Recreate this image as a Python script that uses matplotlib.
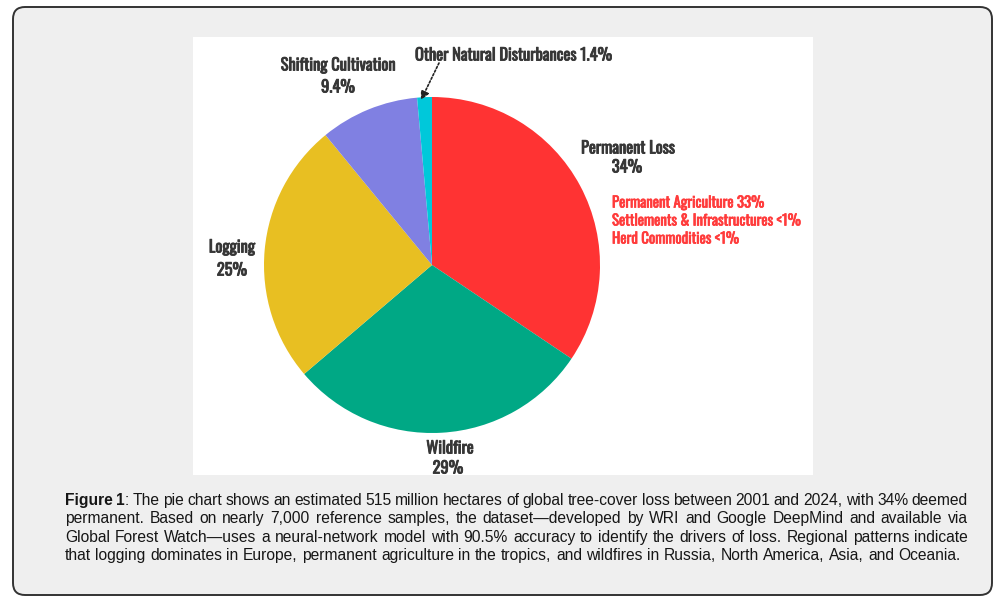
import matplotlib
matplotlib.use("Agg")
import matplotlib.pyplot as plt
import matplotlib.patheffects as pe
from matplotlib.patches import FancyBboxPatch, Rectangle

# ---------------- data ----------------
categories = ["Permanent Loss", "Wildfire", "Logging", "Shifting Cultivation", "Other Natural Disturbances"]
shares = [34, 29, 25, 9.4, 1.4]
colors = ["#ff3333", "#00a885", "#e8bf22", "#8080e2", "#00c8da"]
sub_drivers = ["Permanent Agriculture 33%", "Settlements & Infrastructures <1%", "Herd Commodities <1%"]

caption_lines = [
    "The pie chart shows an estimated 515 million hectares of global tree-cover loss between 2001 and 2024, with 34% deemed",
    "permanent. Based on nearly 7,000 reference samples, the dataset\u2014developed by WRI and Google DeepMind and available via",
    "Global Forest Watch\u2014uses a neural-network model with 90.5% accuracy to identify the drivers of loss. Regional patterns indicate",
    "that logging dominates in Europe, permanent agriculture in the tropics, and wildfires in Russia, North America, Asia, and Oceania.",
]

W, H = 1004, 603
LABEL_FONT = "Oswald"
CAP_FONT = "Liberation Sans"
DARK = "#363636"
RED_TXT = "#ff3b3b"

fig = plt.figure(figsize=(W / 100, H / 100), dpi=100)
fig.patch.set_facecolor("white")


def fx(x):
    return x / W


def fy(y):
    return 1 - y / H


# outer rounded panel
panel = FancyBboxPatch((fx(13), fy(595)), fx(992 - 13), (595 - 7) / H,
                       boxstyle="round,pad=0,rounding_size=0.012",
                       transform=fig.transFigure, facecolor="#efefef",
                       edgecolor="#333333", linewidth=1.4, mutation_aspect=W / H,
                       zorder=-3)
fig.add_artist(panel)

# white image area
fig.add_artist(Rectangle((fx(193), fy(475)), fx(813 - 193), (475 - 37) / H,
                         transform=fig.transFigure, facecolor="white", edgecolor="none",
                         zorder=-2))

# pie
cx, cy, r = 432, 265, 168
ax = fig.add_axes([fx(cx - r), fy(cy + r), 2 * r / W, 2 * r / H])
ax.set_zorder(1)
ax.patch.set_alpha(0)
ax.pie(shares, colors=colors, startangle=90, counterclock=False, radius=1,
       wedgeprops=dict(linewidth=0))
ax.set_xlim(-1, 1)
ax.set_ylim(-1, 1)
ax.set_aspect("auto")
ax.axis("off")

renderer = fig.canvas.get_renderer()


def fit_size(text, target_w, family, weight="normal"):
    t = fig.text(0, 0, text, fontsize=10, family=family, weight=weight)
    w = t.get_window_extent(renderer).width
    t.remove()
    return 10 * target_w / w


s_lab = fit_size("Shifting Cultivation", 115, LABEL_FONT, "bold")
s_red = fit_size(sub_drivers[0], 152, LABEL_FONT, "bold")


def lab(x, y, s, ha="center", size=None, color=DARK, stroke=0.6):
    fig.text(fx(x), fy(y), s, ha=ha, va="center", fontsize=size or s_lab,
             family=LABEL_FONT, weight="bold", color=color, zorder=3,
             path_effects=[pe.withStroke(linewidth=stroke, foreground=color)])


lab(338, 65, categories[3])
lab(338, 87, "9.4%")
lab(415, 55, categories[4] + " 1.4%", ha="left")
lab(628, 148, categories[0])
lab(627, 167, "34%")
lab(232, 247, categories[2])
lab(232, 270, "25%")
lab(450, 448, categories[1])
lab(448, 468, "29%")
for i, s in enumerate(sub_drivers):
    lab(612, [203, 221, 239][i], s, ha="left", size=s_red, color=RED_TXT, stroke=0.5)

# dotted arrow to the small slice
ax.annotate("", xy=(421, H - 100), xycoords="figure pixels",
            xytext=(439, H - 63), textcoords="figure pixels",
            annotation_clip=False,
            arrowprops=dict(arrowstyle="-|>,head_length=0.5,head_width=0.25",
                            linestyle=(0, (1.2, 1.2)), color="#222222", lw=1.2,
                            shrinkA=0, shrinkB=0))

# caption (justified)
cap_size = fit_size(caption_lines[3], 895, CAP_FONT)
x0, x1 = 65, 968
baselines = [505, 523, 542, 560]


def measure(s, weight="normal"):
    t = fig.text(0, 0, s, fontsize=cap_size, family=CAP_FONT, weight=weight)
    w = t.get_window_extent(renderer).width
    t.remove()
    return w


space_w = measure("a a") - measure("aa")
for li, line in enumerate(caption_lines):
    words = [[(w, "normal")] for w in line.split(" ")]
    if li == 0:
        words = [[("Figure", "bold")], [("1", "bold"), (":", "normal")]] + words
    widths = [sum(measure(seg, wt) for seg, wt in wd) for wd in words]
    total = sum(widths)
    if li < len(caption_lines) - 1:
        gap = (x1 - x0 - total) / (len(words) - 1)
    else:
        gap = space_w
    x = x0
    for wd, ww in zip(words, widths):
        xx = x
        for seg, wt in wd:
            fig.text(fx(xx), fy(baselines[li]), seg, ha="left", va="baseline",
                     fontsize=cap_size, family=CAP_FONT, weight=wt, color="#161616")
            xx += measure(seg, wt)
        x += ww + gap

fig.savefig("out.png", dpi=100)
